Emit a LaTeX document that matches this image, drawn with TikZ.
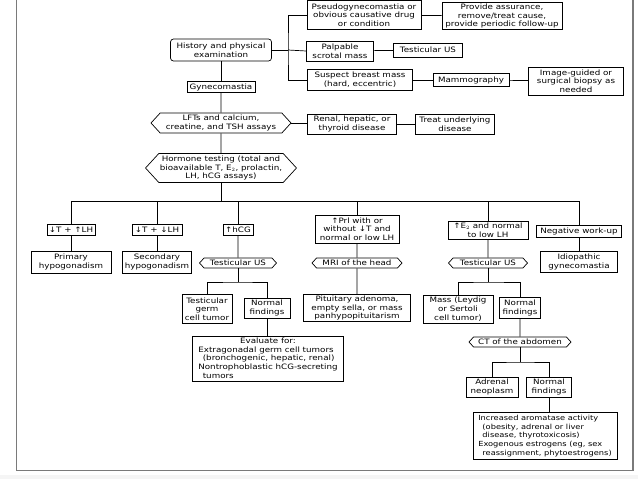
\documentclass[tikz,border=0pt]{standalone}
\usepackage{fontspec}
\setmainfont{DejaVu Sans}[FakeStretch=1.18]
\usetikzlibrary{positioning,calc,shapes.symbols}
\definecolor{frm}{HTML}{7A7A7A}
\tikzset{
  box/.style={draw=black,line width=0.7pt,inner sep=1pt,align=center,fill=white,
    font=\fontsize{7.4}{8.7}\selectfont},
  rbox/.style={box,rounded corners=3pt},
  hexbox/.style={box,shape=signal,signal to=east and west,signal pointer angle=95},
  conn/.style={draw=black,line width=0.7pt},
}
\begin{document}
\begin{tikzpicture}[x=1pt,y=-1pt]
\useasboundingbox (0,0) rectangle (638,479);
% frame
\fill[gray!8] (0,475) rectangle (638,479);
\draw[frm,line width=1.6pt] (16.5,0) -- (16.5,470.5) -- (633,470.5) -- (633,0);
% top part
\node[rbox,minimum width=101pt,minimum height=22pt] (hist) at (221,50) {History and physical\\examination};
\node[box,minimum width=68pt,minimum height=11pt] (gyn) at (221,87) {Gynecomastia};
\node[box,minimum width=114pt,minimum height=29pt] (pseudo) at (364,15) {Pseudogynecomastia or\\obvious causative drug\\or condition};
\node[box,minimum width=120pt,minimum height=27pt] (assur) at (502,16) {Provide assurance,\\remove/treat cause,\\provide periodic follow-up};
\node[box,minimum width=67pt,minimum height=20pt] (palp) at (340,51) {Palpable\\scrotal mass};
\node[box,minimum width=69pt,minimum height=14pt] (tusa) at (428,50) {Testicular US};
\node[box,minimum width=105pt,minimum height=21pt] (susp) at (360,80) {Suspect breast mass\\(hard, eccentric)};
\node[box,minimum width=76pt,minimum height=13pt] (mammo) at (471,80) {Mammography};
\node[box,minimum width=95pt,minimum height=28pt] (biopsy) at (576,81) {Image-guided or\\surgical biopsy as\\needed};
\coordinate (brk) at (288,50);
\draw[conn] (hist) -- (gyn);
\draw[conn] (hist.east) -- (brk);
\draw[conn] (pseudo.west) -| (brk) |- (susp.west);
\draw[conn] (brk) -- (palp.west);
\draw[conn] (pseudo) -- (assur);
\draw[conn] (palp) -- (tusa);
\draw[conn] (susp) -- (mammo);
\draw[conn] (mammo) -- (biopsy);
% assays
\node[hexbox,minimum width=140pt,minimum height=20pt] (lft) at (221,123) {LFTs and calcium,\\creatine, and TSH assays};
\node[box,minimum width=89pt,minimum height=20pt] (renal) at (352,124) {Renal, hepatic, or\\thyroid disease};
\node[box,minimum width=79pt,minimum height=20pt] (treat) at (455,124) {Treat underlying\\disease};
\node[hexbox,minimum width=149pt,minimum height=29pt] (horm) at (221,168) {Hormone testing (total and\\bioavailable T, E$_2$, prolactin,\\LH, hCG assays)};
\draw[conn] (gyn) -- (lft);
\draw[conn] (lft) -- (horm);
\draw[conn] (lft.east) -- (renal.west |- lft.east);
\draw[conn] (renal) -- (treat);
% results
\coordinate (bus) at (221,201);
\node[box,minimum width=48pt,minimum height=11pt] (tlh) at (71,230) {↓T + ↑LH};
\node[box,minimum width=50pt,minimum height=11pt] (tlh2) at (157,230) {↓T + ↓LH};
\node[box,minimum width=30pt,minimum height=11pt] (hcg) at (238,230) {↑hCG};
\node[box,minimum width=84pt,minimum height=28pt] (prl) at (357,229) {↑Prl with or\\without ↓T and\\normal or low LH};
\node[box,minimum width=80pt,minimum height=18pt] (estr) at (488,230) {↑E$_2$ and normal\\to low LH};
\node[box,minimum width=85pt,minimum height=12pt] (neg) at (579,231) {Negative work-up};
\draw[conn] (horm) -- (bus);
\foreach \n in {tlh,tlh2,hcg,prl,estr,neg}
  \draw[conn] (bus) -| (\n.north);
% diagnoses and imaging
\node[box,minimum width=80pt,minimum height=22pt] (prim) at (71,262) {Primary\\hypogonadism};
\node[box,minimum width=69pt,minimum height=22pt] (sec) at (157,262) {Secondary\\hypogonadism};
\node[hexbox,minimum width=77pt,minimum height=10pt] (tusb) at (238,263) {Testicular US};
\node[hexbox,minimum width=90pt,minimum height=10pt] (mri) at (357,263) {MRI of the head};
\node[hexbox,minimum width=79pt,minimum height=10pt] (tusc) at (488,263) {Testicular US};
\node[box,minimum width=77pt,minimum height=21pt] (idio) at (579,262) {Idiopathic\\gynecomastia};
\draw[conn] (tlh) -- (prim);
\draw[conn] (tlh2) -- (sec);
\draw[conn] (hcg) -- (tusb);
\draw[conn] (prl) -- (mri);
\draw[conn] (estr) -- (tusc);
\draw[conn] (neg) -- (idio);
% lower branches
\coordinate (spla) at (238,282);
\coordinate (splb) at (488,282);
\node[box,minimum width=50pt,minimum height=29pt] (germ) at (207,309) {Testicular\\germ\\cell tumor};
\node[box,minimum width=46pt,minimum height=20pt] (norma) at (267,308) {Normal\\findings};
\node[box,minimum width=107pt,minimum height=24pt] (pit) at (357,308) {Pituitary adenoma,\\empty sella, or mass\\panhypopituitarism};
\node[box,minimum width=70pt,minimum height=28pt] (mass) at (458,309) {Mass (Leydig\\or Sertoli\\cell tumor)};
\node[box,minimum width=41pt,minimum height=21pt] (normb) at (520,308) {Normal\\findings};
\draw[conn] (tusb) -- (spla);
\draw[conn] (germ.north) |- (spla) -| (norma.north);
\draw[conn] (mri) -- (pit);
\draw[conn] (tusc) -- (splb);
\draw[conn] (mass.north) |- (splb) -| (normb.north);
\node[box,minimum width=151pt,minimum height=44pt] (eval) at (268,359) {\begin{tabular}{@{}l@{}}\multicolumn{1}{@{}c@{}}{Evaluate for:}\\Extragonadal germ cell tumors\\\hspace{0.6em}(bronchogenic, hepatic, renal)\\Nontrophoblastic hCG-secreting\\\hspace{0.6em}tumors\end{tabular}};
\draw[conn] (norma.south) -- (norma.south |- eval.north);
% abdomen
\node[hexbox,minimum width=102pt,minimum height=10pt] (ct) at (520,342) {CT of the abdomen};
\coordinate (splc) at (520,362);
\node[box,minimum width=52pt,minimum height=20pt] (adren) at (492,387) {Adrenal\\neoplasm};
\node[box,minimum width=45pt,minimum height=20pt] (normc) at (549,387) {Normal\\findings};
\node[box,minimum width=144pt,minimum height=47pt,font=\fontsize{7}{8.7}\selectfont] (arom) at (545,436) {\begin{tabular}{@{}l@{}}Increased aromatase activity\\\hspace{0.6em}(obesity, adrenal or liver\\\hspace{0.6em}disease, thyrotoxicosis)\\Exogenous estrogens (eg, sex\\\hspace{0.6em}reassignment, phytoestrogens)\end{tabular}};
\draw[conn] (normb) -- (ct);
\draw[conn] (ct) -- (splc);
\draw[conn] (adren.north) |- (splc) -| (normc.north);
\draw[conn] (normc.south) -- (normc.south |- arom.north);
\end{tikzpicture}
\end{document}
